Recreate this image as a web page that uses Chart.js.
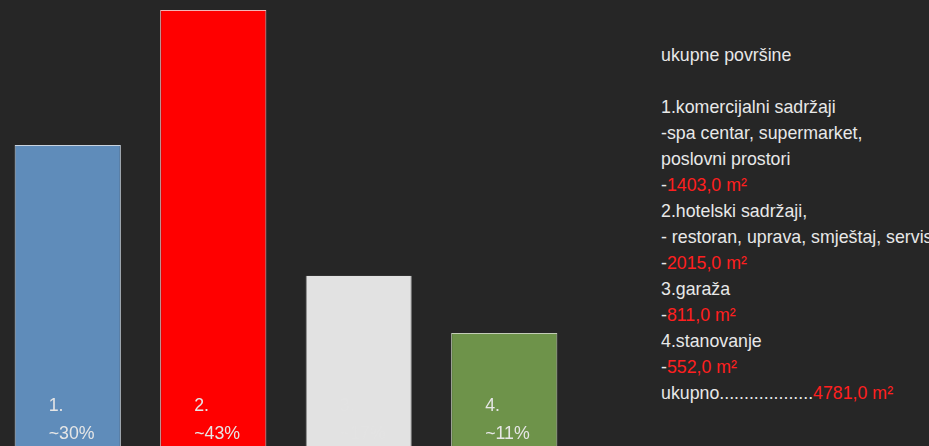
<!DOCTYPE html>
<html>
<head>
<meta charset="utf-8">
<script src="https://cdn.jsdelivr.net/npm/chart.js@4"></script>
<style>
  html, body { margin: 0; padding: 0; background: #262626; width: 929px; height: 446px; overflow: hidden; }
  #wrap { position: absolute; left: -5px; top: 10px; width: 582px; height: 436px; }
  #info {
    position: absolute; left: 661px; top: 42px; white-space: nowrap;
    font-family: "Liberation Sans", Arial, sans-serif; font-size: 19px; line-height: 26px;
    color: #e8e8e8; transform: scaleX(0.935); transform-origin: left top;
  }
  #info .r { color: #ff1f1f; }
</style>
</head>
<body>
<div id="wrap"><canvas id="chart"></canvas></div>
<div id="info">
  ukupne površine<br><br>
  1.komercijalni sadržaji<br>
  -spa centar, supermarket,<br>
  poslovni prostori<br>
  -<span class="r">1403,0 m²</span><br>
  2.hotelski sadržaji,<br>
  - restoran, uprava, smještaj, servis<br>
  -<span class="r">2015,0 m²</span><br>
  3.garaža<br>
  -<span class="r">811,0 m²</span><br>
  4.stanovanje<br>
  -<span class="r">552,0 m²</span><br>
  ukupno...................<span class="r">4781,0 m²</span>
</div>
<script>
const categories = ["1.", "2.", "3.", "4."];
const areas = [1403.0, 2015.0, 811.0, 552.0];
const shares = ["~30%", "~43%", "~17%", "~11%"];
const barColors = ["#5f8cba", "#ff0000", "#e2e2e2", "#6e934a"];
const edgeColors = ["#c9d3de", "#f3b6b6", "#8c8c8c", "#c4cdb8"];
// white text on the light grey bar is practically invisible in the original
const labelColors = ["#e6e6e6", "#e6e6e6", "#e3e3e3", "#e6e6e6"];

// text inside the bars: number + share, left aligned near bottom
const barLabels = {
  id: 'barLabels',
  afterDatasetsDraw(chart) {
    const ctx = chart.ctx;
    const bottom = chart.chartArea.bottom;
    ctx.save();
    ctx.font = '19px "Liberation Sans", Arial, sans-serif';
    ctx.textAlign = 'left';
    ctx.textBaseline = 'alphabetic';
    chart.getDatasetMeta(0).data.forEach((bar, i) => {
      const x = bar.x - bar.width / 2 + 34;
      ctx.save();
      ctx.fillStyle = labelColors[i];
      ctx.translate(x, 0);
      ctx.scale(0.935, 1);
      ctx.fillText(categories[i], 0, bottom - 35);
      ctx.fillText(shares[i], 0, bottom - 7);
      ctx.restore();
    });
    ctx.restore();
  }
};

new Chart(document.getElementById('chart'), {
  type: 'bar',
  data: {
    labels: categories,
    datasets: [{
      data: areas,
      backgroundColor: barColors,
      borderColor: edgeColors,
      borderWidth: [{top:1,left:1,right:1,bottom:0}, {top:1,left:1,right:1,bottom:0}, {top:0,left:1,right:1,bottom:0}, {top:1,left:1,right:1,bottom:0}],
      borderSkipped: false,
      barPercentage: 0.73,
      categoryPercentage: 1.0
    }]
  },
  options: {
    responsive: true,
    maintainAspectRatio: false,
    animation: false,
    layout: { padding: 0 },
    plugins: { legend: { display: false }, tooltip: { enabled: false } },
    scales: {
      x: { display: false },
      y: { display: false, min: 40, max: 2015 }
    }
  },
  plugins: [barLabels]
});
</script>
</body>
</html>
